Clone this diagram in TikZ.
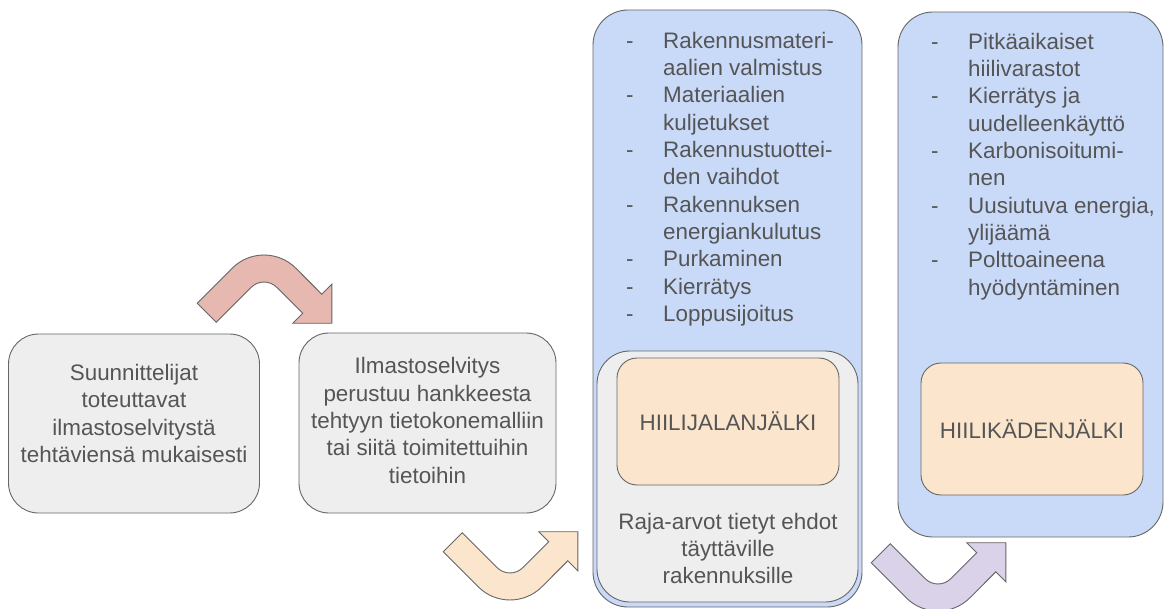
\documentclass[tikz,border=0pt]{standalone}
\usepackage{fontspec}
\setmainfont{Liberation Sans}
\definecolor{txtcol}{HTML}{555555}
\definecolor{edgecol}{HTML}{666666}
\definecolor{grayfill}{HTML}{EEEEEE}
\definecolor{bluefill}{HTML}{C9DAF8}
\definecolor{orangefill}{HTML}{FCE5CD}
\definecolor{redfill}{HTML}{E6B8AF}
\definecolor{purplefill}{HTML}{D9D2E9}
\newcommand\diagfont{\fontsize{22.4}{27.3}\selectfont}
\newcommand\bentarrowpath{%
  (-66.8,3.2) -- (-31.8,-31.8) arc[start angle=225,end angle=315,radius=45]
  -- (57.8,-5.8) -- (67.8,-15.8) -- (67.8,23.3) -- (28.7,23.3) -- (38.7,13.3)
  -- (12.7,-12.7) arc[start angle=315,end angle=225,radius=18]
  -- (-47.7,22.3) -- cycle}
\begin{document}
\begin{tikzpicture}[x=1pt,y=-1pt,
  boxbase/.style={draw=edgecol,line width=0.9pt,inner sep=0pt},
  graybox/.style={boxbase,fill=grayfill,rounded corners=30pt},
  bluebox/.style={boxbase,fill=bluefill,rounded corners=35pt},
  orangebox/.style={boxbase,fill=orangefill,rounded corners=20pt,text=txtcol,font=\diagfont},
  label/.style={text=txtcol,font=\diagfont,align=center,inner sep=0pt},
  listtext/.style={text=txtcol,font=\diagfont,inner sep=0pt,anchor=north west},
  blockarrow/.style={draw=edgecol,line width=0.9pt,line join=miter}]
\useasboundingbox (0,0) rectangle (1169,609);

% left boxes
\node[graybox,minimum width=251pt,minimum height=179pt] (b1) at (134,423.5) {};
\node[label] (t1) at (134,413.5) {Suunnittelijat\\toteuttavat\\ilmastoselvitystä\\tehtäviensä mukaisesti};
\node[graybox,minimum width=257pt,minimum height=180pt] (b2) at (427.5,423) {};
\node[label] (t2) at (427.5,420.5) {Ilmastoselvitys\\perustuu hankkeesta\\tehtyyn tietokonemalliin\\tai siitä toimitettuihin\\tietoihin};

% blue box 1
\node[bluebox,minimum width=269pt,minimum height=597pt] (blue1) at (727.5,308.5) {};
\node[graybox,rounded corners=33pt,minimum width=261pt,minimum height=251pt] (inner1) at (727.5,476.5) {};
\node[orangebox,minimum width=222pt,minimum height=127pt] (foot) at (728,421.5) {HIILIJALANJÄLKI};
\node[label] (raja) at (728,548.6) {Raja-arvot tietyt ehdot\\täyttäville\\rakennuksille};
\node[listtext] (list1) at (626,29) {\begin{tabular}{@{}p{37pt}@{}l@{}}
- & Rakennusmateri-\\
  & aalien valmistus\\
- & Materiaalien\\
  & kuljetukset\\
- & Rakennustuottei-\\
  & den vaihdot\\
- & Rakennuksen\\
  & energiankulutus\\
- & Purkaminen\\
- & Kierrätys\\
- & Loppusijoitus
\end{tabular}};

% blue box 2
\node[bluebox,minimum width=265pt,minimum height=525pt] (blue2) at (1030.5,274.5) {};
\node[orangebox,minimum width=222pt,minimum height=132pt] (hand) at (1032,429) {HIILIKÄDENJÄLKI};
\node[listtext] (list2) at (931,30) {\begin{tabular}{@{}p{37pt}@{}l@{}}
- & Pitkäaikaiset\\
  & hiilivarastot\\
- & Kierrätys ja\\
  & uudelleenkäyttö\\
- & Karbonisoitumi-\\
  & nen\\
- & Uusiutuva energia,\\
  & ylijäämä\\
- & Polttoaineena\\
  & hyödyntäminen
\end{tabular}};

% block arrows
\begin{scope}[shift={(264,300)}]
  \draw[blockarrow,fill=redfill] \bentarrowpath;
\end{scope}
\begin{scope}[shift={(510,555)},yscale=-1]
  \draw[blockarrow,fill=orangefill] \bentarrowpath;
\end{scope}
\begin{scope}[shift={(938,566)},yscale=-1]
  \draw[blockarrow,fill=purplefill] \bentarrowpath;
\end{scope}
\end{tikzpicture}
\end{document}
